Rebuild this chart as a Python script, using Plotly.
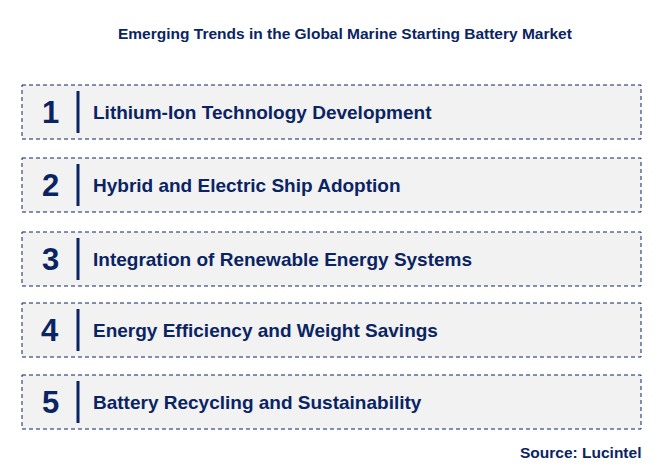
import plotly.graph_objects as go

W, H = 668, 472
NAVY = "#0a2463"
OFF = 8  # page body margin offset

numbers = ["1", "2", "3", "4", "5"]
trends = [
    "Lithium-Ion Technology Development",
    "Hybrid and Electric Ship Adoption",
    "Integration of Renewable Energy Systems",
    "Energy Efficiency and Weight Savings",
    "Battery Recycling and Sustainability",
]
title = "Emerging Trends in the Global Marine Starting Battery Market"
source = "Source: Lucintel"

box_tops = [85, 158, 232, 303, 375]
box_h = 54
x0, x1 = 22, 641

fig = go.Figure()
shapes = []
for num, text, top in zip(numbers, trends, box_tops):
    top -= OFF
    bot = top + box_h
    mid = (top + bot) / 2
    shapes.append(dict(type="rect", x0=x0 - OFF, x1=x1 - OFF, y0=top, y1=bot,
                       fillcolor="#f2f2f2", line=dict(color=NAVY, width=1, dash="4px,3px"),
                       layer="below"))
    shapes.append(dict(type="line", x0=78 - OFF, x1=78 - OFF, y0=top + 6, y1=bot - 6,
                       line=dict(color=NAVY, width=3)))
    fig.add_annotation(x=50 - OFF, y=mid, text=f"<b>{num}</b>", showarrow=False,
                       font=dict(size=31, color=NAVY))
    fig.add_annotation(x=91 - OFF, y=mid, text=f"<b>{text}</b>", showarrow=False,
                       xanchor="left", font=dict(size=19, color=NAVY))

fig.add_annotation(x=345 - OFF, y=33 - OFF, text=f"<b>{title}</b>", showarrow=False,
                   font=dict(size=15.5, color=NAVY))
fig.add_annotation(x=643 - OFF, y=452 - OFF, text=f"<b>{source}</b>", showarrow=False,
                   xanchor="right", font=dict(size=15.5, color=NAVY))

fig.update_layout(
    width=W, height=H, margin=dict(l=0, r=0, t=0, b=0),
    plot_bgcolor="white", paper_bgcolor="white", shapes=shapes,
    font=dict(family="Arial, Liberation Sans, sans-serif"),
    xaxis=dict(range=[0, W], visible=False, fixedrange=True),
    yaxis=dict(range=[H, 0], visible=False, fixedrange=True),
    showlegend=False,
)
fig.write_html("out.html")
